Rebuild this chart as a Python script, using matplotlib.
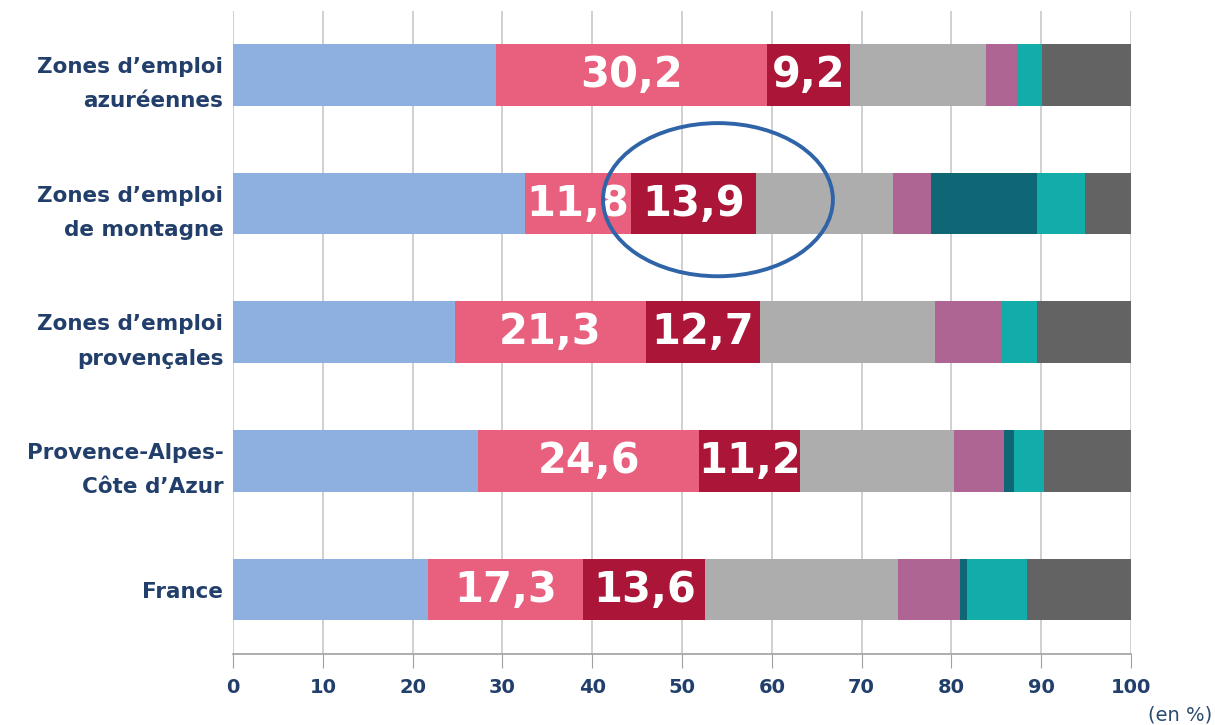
import numpy as np
import matplotlib.pyplot as plt
from matplotlib.patches import Ellipse

plt.rcParams['font.family'] = ['DejaVu Sans']

categories = ["Zones d\u2019emploi\nazur\u00e9ennes", "Zones d\u2019emploi\nde montagne",
              "Zones d\u2019emploi\nproven\u00e7ales", "Provence-Alpes-\nC\u00f4te d\u2019Azur", "France"]

# segment shares (en %)
s_blue = [29.3, 32.5, 24.7, 27.3, 21.7]
s_pink = [30.2, 11.8, 21.3, 24.6, 17.3]
s_red = [9.2, 13.9, 12.7, 11.2, 13.6]
s_gray = [15.2, 15.3, 19.5, 17.2, 21.5]
s_purple = [3.4, 4.2, 7.4, 5.6, 6.8]
s_dteal = [0.0, 11.8, 0.0, 1.1, 0.8]
s_teal = [2.8, 5.4, 3.9, 3.3, 6.7]
s_dgray = [9.9, 5.1, 10.5, 9.7, 11.6]

labelled = [1, 2]  # pink and dark red get value labels

series = [s_blue, s_pink, s_red, s_gray, s_purple, s_dteal, s_teal, s_dgray]
colors = ["#8EB0E1", "#E9607E", "#AA1538", "#ADADAD", "#AF6594", "#0F6674", "#12ACAA", "#636363"]

navy = "#223F6B"

fig = plt.figure(figsize=(12.15, 7.25), dpi=100)
ax = fig.add_axes([0.1918, 0.098, 0.7391, 0.8875])

y = np.arange(len(categories))
left = np.zeros(len(categories))
for i, (vals, c) in enumerate(zip(series, colors)):
    vals = np.array(vals)
    ax.barh(y, vals, left=left, color=c, height=0.48, zorder=2)
    if i in labelled:
        for yy, l, v in zip(y, left, vals):
            ax.text(l + v / 2, yy, "{:.1f}".format(v).replace(".", ","), ha="center", va="center",
                    color="white", fontsize=30, fontweight="bold", zorder=4)
    left = left + vals

ax.set_xlim(0, 100)
ax.set_ylim(len(categories) - 0.5, -0.5)
ax.set_xticks(np.arange(0, 101, 10))
ax.set_yticks(y)
ax.set_yticklabels(categories, fontsize=15.5, fontweight="bold", color=navy,
                   multialignment="right", linespacing=1.9)
ax.tick_params(axis="y", length=0, pad=7)
ax.tick_params(axis="x", length=10, color="#A0A0A0", labelsize=14, labelcolor=navy, pad=7)
for t in ax.get_xticklabels():
    t.set_fontweight("bold")

ax.grid(axis="x", color="#C8C8C8", lw=1.2, zorder=0)
for s in ["top", "right"]:
    ax.spines[s].set_visible(False)
ax.spines["left"].set_visible(False)
ax.spines["bottom"].set_color("#A0A0A0")
ax.spines["bottom"].set_linewidth(1.2)

ell = Ellipse((54.0, 0.97), 25.6, 1.19, fill=False, edgecolor="#2F64A8", lw=2.8, zorder=5, clip_on=False)
ax.add_patch(ell)

fig.text(0.9975, 0.0138, "(en %)", ha="right", va="center", fontsize=14, color="#2B4A70")

fig.savefig("out.png", dpi=100)
